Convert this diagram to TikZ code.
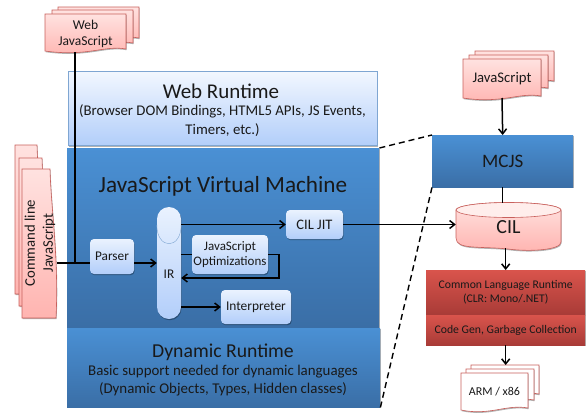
\documentclass[tikz,border=0pt]{standalone}
\usepackage{fontspec}
\setmainfont{Carlito}
\usetikzlibrary{positioning}
\usetikzlibrary{arrows.meta}
\usetikzlibrary{shadows}
\definecolor{sheetline}{HTML}{C8605C}
\definecolor{boxline}{HTML}{7FA6D2}
\tikzset{every node/.style={align=center, inner sep=0pt, text=black!90},
         softshadow/.style={drop shadow={shadow xshift=0.6pt, shadow yshift=-1.2pt, opacity=0.3, fill=black}},
         layerbox/.style={ % Sets the properties for the three layers
           anchor=north west, top color=blue1, bottom color=blue2, softshadow},
         webbox/.style={anchor=north west, draw=boxline, semithick,
           top color=white!40!light1, bottom color=light2, softshadow},
         lightbox/.style={ % Sets the properties for the small blocks
           rounded corners=4pt, top color=light1, bottom color=light2,
           softshadow},
         redbox/.style={anchor=north west, top color=red1, bottom color=red2, softshadow},
         sheet/.style={draw=sheetline, semithick, top color=pink1, bottom color=pink2},
         whitesheet/.style={draw=sheetline, semithick, fill=white},
         link/.style={draw=black, line width=1.5pt, -{Straight Barb[length=5pt,width=8pt]}},
         plainlink/.style={draw=black, line width=1.5pt},
         zoomline/.style={draw=black, line width=1.4pt, dash pattern=on 6pt off 4pt}}
\definecolor{blue1}{HTML}{4A90D4}
\definecolor{blue2}{HTML}{3A6EA6}
\definecolor{light1}{HTML}{EAF2FE}
\definecolor{light2}{HTML}{B2CEFA}
\definecolor{red1}{HTML}{D9544C}
\definecolor{red2}{HTML}{A83B37}
\definecolor{pink1}{HTML}{FFE2E0}
\definecolor{pink2}{HTML}{FFB4B0}
% one sheet of a stack: left, top, right, bottom
\newcommand{\docsheet}[5][sheet]{
  \path[#1, softshadow] (#2,#3) -- (#4,#3) -- (#4,#5-3)
    .. controls (#4-22,#5-7) and (#4-38,#5+5) .. (#2,#5-1) -- cycle;
}
% the same sheet lying on its side, wavy edge on the right
\newcommand{\sidesheet}[4]{
  \path[sheet, softshadow] (#1,#2) -- (#3-6,#2)
    .. controls (#3-5,#2+40) and (#3+3,#2+90) .. (#3,#4) -- (#1,#4) -- cycle;
}

\begin{document}
\begin{tikzpicture}[x=1pt, y=-1pt]
  \useasboundingbox (0,0) rectangle (587,413);

  \node [webbox, minimum width=309pt, minimum height=74pt] (qweb) at (68,71) {};
  \node [layerbox, minimum width=312pt, minimum height=179pt] (qvm) at (67,148) {};
  \node [layerbox, minimum width=313pt, minimum height=79pt] (qdynamic) at (67,328) {};

  \node [font=\fontsize{21}{24}\selectfont] at (221,91) (qwebtitle) {Web Runtime};
  \node [font=\fontsize{14.8}{18.5}\selectfont] at (222.5,120.5) (qwebtext) {(Browser DOM Bindings, HTML5 APIs, JS Events,\\Timers, etc.)};
  \node [font=\fontsize{23.2}{28}\selectfont] at (223,186) (qvmtitle) {JavaScript Virtual Machine};
  \node [font=\fontsize{19.7}{22}\selectfont] at (223,352) (qdyntitle) {Dynamic Runtime};
  \node [font=\fontsize{14.9}{17.5}\selectfont] at (223,380.5) (qdyntext) {Basic support needed for dynamic languages\\(Dynamic Objects, Types, Hidden classes)};

  % web javascript stack
  \docsheet{58}{7}{139}{41}
  \docsheet{52}{10}{133}{46}
  \docsheet{45}{14}{126}{52}
  \node [font=\fontsize{13.5}{15.5}\selectfont, minimum width=81pt, minimum height=38pt] at (85.5,34) (qwebjs) {Web\\JavaScript};

  % command line stack
  \sidesheet{15}{145}{43}{294}
  \sidesheet{19}{158}{48}{306}
  \sidesheet{22}{169}{56}{318}
  \node [rotate=90, font=\fontsize{14.7}{18}\selectfont, minimum width=145pt, minimum height=34pt] at (40,243) (qcmdjs) {Command line\\JavaScript};

  \coordinate (qjoin) at (75,263);
  \node [lightbox, minimum width=44pt, minimum height=35pt, font=\fontsize{13.3}{15}\selectfont] at (112,256.5) (qparser) {Parser};
  \node [lightbox, rounded corners=12pt, minimum width=24pt, minimum height=112pt, font=\fontsize{13.3}{15}\selectfont] at (169,263) (qir) {\smash{\raisebox{-15pt}{IR}}};
  \draw [boxline] (qir.west |- 0,225) .. controls (157,250) and (181,250) .. (qir.east |- 0,225);
  \node [lightbox, minimum width=57pt, minimum height=29pt, font=\fontsize{14.5}{15}\selectfont] at (314.5,224.5) (qjit) {CIL JIT};
  \node [lightbox, minimum width=76pt, minimum height=39pt, font=\fontsize{13}{15}\selectfont] at (230,254.5) (qopt) {JavaScript\\Optimizations};
  \node [lightbox, minimum width=70pt, minimum height=34pt, font=\fontsize{13.4}{15}\selectfont] at (256,307) (qinterp) {Interpreter};

  % right column
  \docsheet{475}{51}{554}{84}
  \docsheet{469}{55}{548}{91}
  \docsheet{463}{59}{541}{99}
  \node [font=\fontsize{14.7}{17}\selectfont, minimum width=78pt, minimum height=36pt] at (502,79) (qjs) {JavaScript};

  \node [anchor=north west, top color=blue1, bottom color=blue2, softshadow, minimum width=141pt, minimum height=52pt, font=\fontsize{19}{22}\selectfont] at (432,135) (qmcjs) {MCJS};

  \path [sheet, softshadow] (456,210) arc [start angle=180, end angle=0, x radius=52.5pt, y radius=7.5pt]
    -- (561,242) .. controls (561,250) and (530,252) .. (508,249) .. controls (480,246) and (456,250) .. (456,238) -- cycle;
  \draw [sheetline, semithick, fill=pink1!60!white] (508.5,210) ellipse [x radius=52.5pt, y radius=7.5pt];
  \node [font=\fontsize{20}{24}\selectfont, minimum width=105pt, minimum height=44pt] at (508.5,227) (qcil) {CIL};

  \node [redbox, minimum width=159pt, minimum height=45pt, font=\fontsize{11.7}{14}\selectfont] at (426,270) (qclr) {Common Language Runtime\\(CLR: Mono/.NET)};
  \node [redbox, minimum width=159pt, minimum height=30pt, font=\fontsize{11.7}{14}\selectfont] at (426,315) (qcodegen) {Code Gen, Garbage Collection};

  \docsheet[whitesheet]{471}{365}{539}{397}
  \docsheet[whitesheet]{466}{369}{534}{403}
  \docsheet[whitesheet]{461}{373}{528}{411}
  \node [font=\fontsize{12}{15}\selectfont, minimum width=67pt, minimum height=34pt] at (494.5,392) (qarm) {ARM / x86};

  % connectors
  \draw [plainlink] (qjoin |- qwebjs.south) ++(0,-1) -- (qjoin);
  \draw [plainlink] (qcmdjs.south |- qjoin) -- (qparser.west |- qjoin);
  \draw [link] (qparser.east |- qjoin) -- (qir.west |- qjoin);
  \draw [link] (qir.east |- qjit.west) -- (qjit.west);
  \draw [plainlink] (qir.east |- qopt.west) -- (qopt.west);
  \draw [link] (qopt.east) -- ++(11,0) |- (qir.east |- 0,278);
  \draw [link] (qir.east |- qinterp.west) -- (qinterp.west);
  \draw [link] (qjit.east) -- (qcil.west |- qjit.east);
  \draw [link] (qjs.south |- 0,98) -- (qmcjs.north);
  \draw [plainlink] (qmcjs.south) -- (qmcjs.south |- 0,203);
  \draw [link] (qclr.north |- 0,248) -- (qclr.north);
  \draw [link] (qcodegen.south) -- (qcodegen.south |- 0,365);
  \draw [zoomline] (qvm.north east) -- (qmcjs.north west);
  \draw [zoomline] (qmcjs.south west) -- (qdynamic.south east);
\end{tikzpicture}
\end{document}
